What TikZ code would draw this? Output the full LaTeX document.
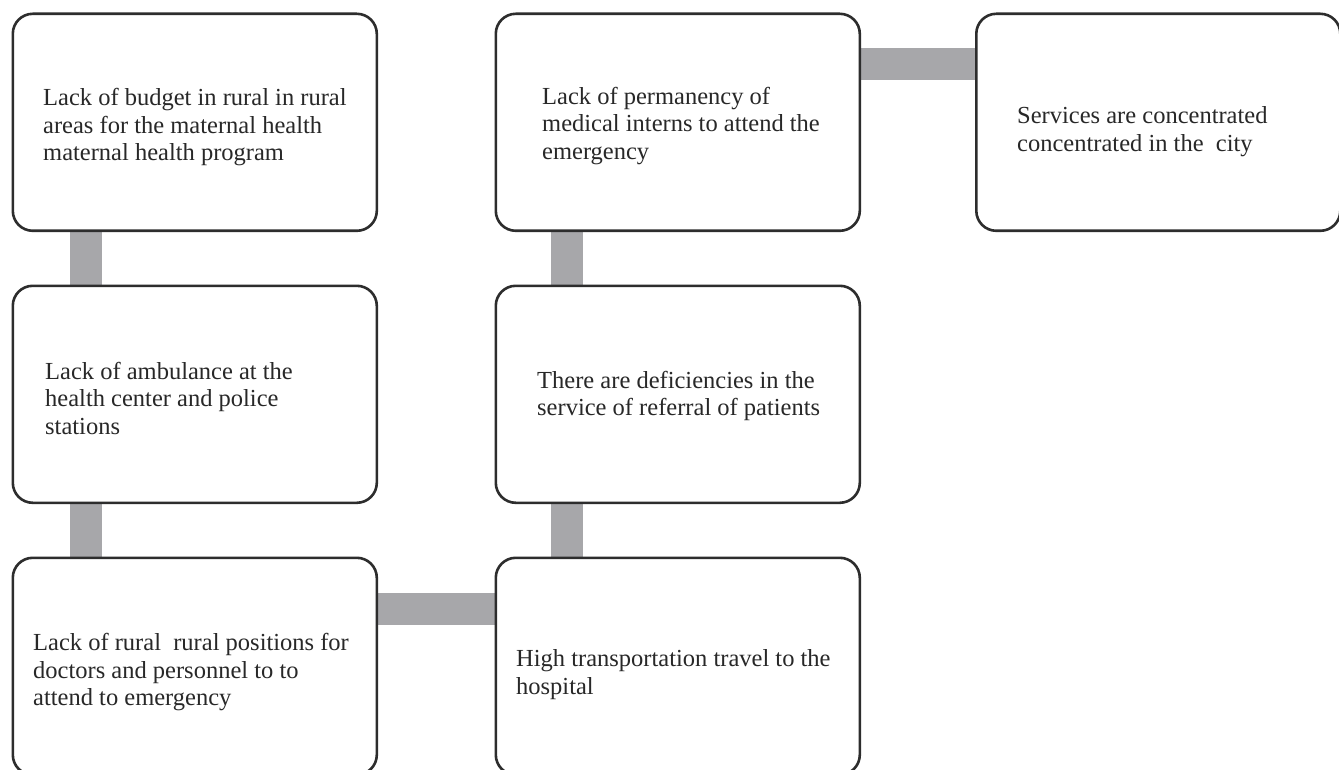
\documentclass[tikz,border=0pt]{standalone}
\usepackage{fontspec}
\setmainfont{Liberation Serif}
\usetikzlibrary{calc,backgrounds}
\definecolor{barGray}{RGB}{167,167,170}
\definecolor{edgeGray}{RGB}{45,45,45}
\definecolor{inkGray}{RGB}{40,40,40}
\begin{document}
\begin{tikzpicture}[x=1pt,y=-1pt,
  box/.style={draw=edgeGray, line width=2.6pt, rounded corners=20pt, fill=white,
    minimum width=364pt, minimum height=217pt, inner sep=0pt, anchor=north west},
  txt/.style={anchor=west, align=left, inner sep=0pt, text=inkGray,
    font=\fontsize{24.5}{27.5}\selectfont},
  bar/.style={draw=barGray, line width=32pt}]
\useasboundingbox (0,0) rectangle (1339,770);
\clip (0,0) rectangle (1339,770);

% cause boxes
\node[box] (a) at (11.5,12.5) {};
\node[box] (b) at (11.5,284.5) {};
\node[box] (c) at (11.5,556.5) {};
\node[box] (d) at (494.5,556.5) {};
\node[box] (e) at (494.5,284.5) {};
\node[box] (f) at (494.5,12.5) {};
\node[box] (g) at (975,12.5) {};

% box texts
\node[txt] (ta) at ($(a.west)+(31.5,5)$) {Lack of budget in rural in rural\\areas for the maternal health\\maternal health program};
\node[txt] (tb) at ($(b.west)+(33.5,4)$) {Lack of ambulance at the\\health center and police\\stations};
\node[txt] (tc) at ($(c.west)+(21.5,6)$) {Lack of rural\ \ rural positions for\\doctors and personnel to to\\attend to emergency};
\node[txt] (td) at ($(d.west)+(21.5,8.5)$) {High transportation travel to the\\hospital};
\node[txt] (te) at ($(e.west)+(42.5,1.5)$) {There are deficiencies in the\\service of referral of patients};
\node[txt] (tf) at ($(f.west)+(47.5,3.5)$) {Lack of permanency of\\medical interns to attend the\\emergency};
\node[txt] (tg) at ($(g.west)+(42,9.5)$) {Services are concentrated\\concentrated in the\ \ city};

% connecting bars, behind the boxes
\begin{scope}[on background layer]
\fill[white] (0,0) rectangle (1339,770);
\draw[bar] ($(a.south west)+(74.5,0)$) -- ($(b.north west)+(74.5,0)$);
\draw[bar] ($(b.south west)+(74.5,0)$) -- ($(c.north west)+(74.5,0)$);
\draw[bar] ($(c.north east)+(0,52)$) -- ($(d.north west)+(0,52)$);
\draw[bar] ($(d.north west)+(72.5,0)$) -- ($(e.south west)+(72.5,0)$);
\draw[bar] ($(e.north west)+(72.5,0)$) -- ($(f.south west)+(72.5,0)$);
\draw[bar] ($(f.north east)+(0,51.5)$) -- ($(g.north west)+(0,51.5)$);
\end{scope}
\end{tikzpicture}
\end{document}
